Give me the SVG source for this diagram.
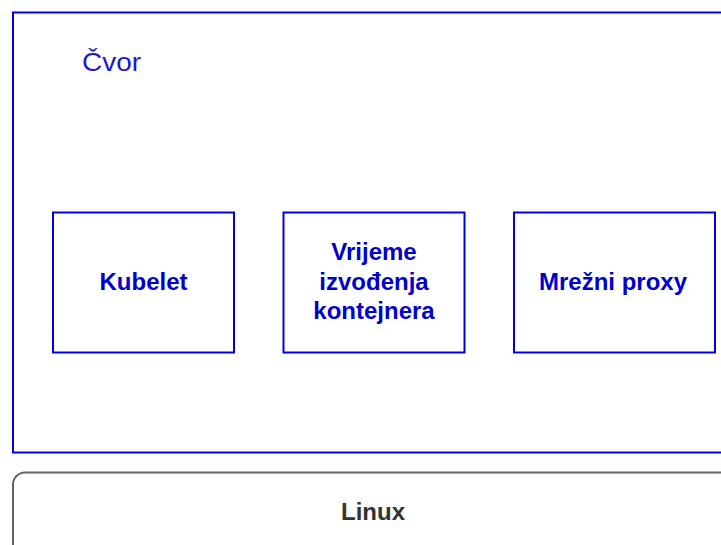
<svg xmlns="http://www.w3.org/2000/svg" width="721" height="545" viewBox="0 0 721 545">
<style>
.blue{fill:#ffffff;stroke:#0000dd;stroke-width:2}
.lbl{font-family:"Liberation Sans",Arial,sans-serif;font-size:24px;font-weight:bold;fill:#0000cc;text-anchor:middle}
.title{font-family:"Liberation Sans",Arial,sans-serif;font-size:26px;fill:#1a1acc}
.lin{fill:#ffffff;stroke:#666666;stroke-width:2}
.linlbl{font-family:"Liberation Sans",Arial,sans-serif;font-size:24px;font-weight:bold;fill:#333333;text-anchor:middle}
</style>
<rect width="721" height="545" fill="#ffffff"/>
<g id="cvor">
<rect class="blue" x="13" y="12.5" width="740" height="440"/>
<text class="title" x="82" y="71" textLength="59" lengthAdjust="spacingAndGlyphs">Čvor</text>
</g>
<g id="kubelet">
<rect class="blue" x="53" y="212.5" width="181" height="140"/>
<text class="lbl" x="143.5" y="289.5">Kubelet</text>
</g>
<g id="runtime">
<rect class="blue" x="283.5" y="212.5" width="181" height="140"/>
<text class="lbl" x="374" y="260">Vrijeme</text>
<text class="lbl" x="374" y="289.5">izvođenja</text>
<text class="lbl" x="374" y="319">kontejnera</text>
</g>
<g id="proxy">
<rect class="blue" x="514" y="212.5" width="201" height="140"/>
<text class="lbl" x="613" y="289.5">Mrežni proxy</text>
</g>
<g id="linux">
<rect class="lin" x="13" y="472.5" width="740" height="100" rx="12" ry="12"/>
<text class="linlbl" x="373" y="519.5">Linux</text>
</g>
<g id="connectors"></g>
</svg>
